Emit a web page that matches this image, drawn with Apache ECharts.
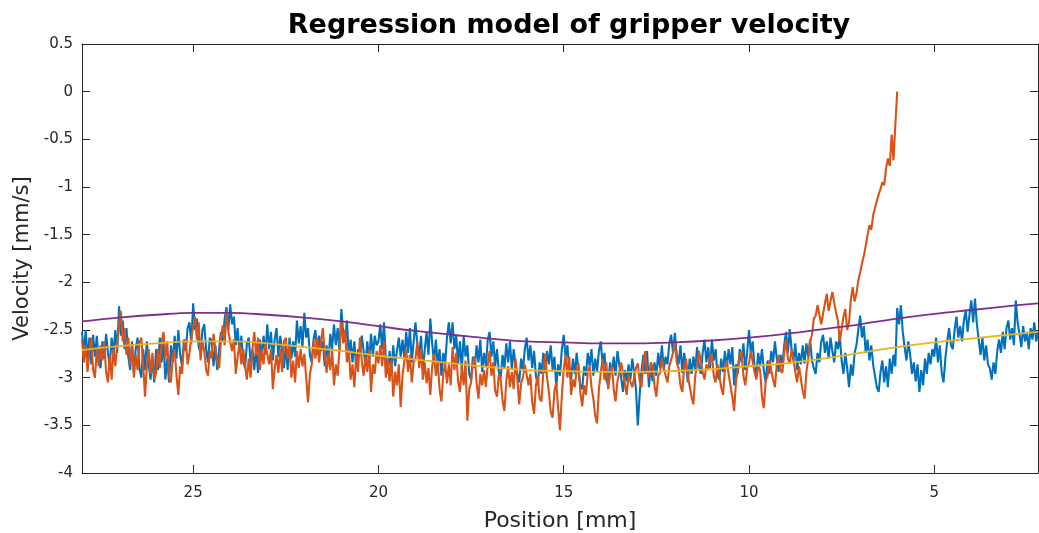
<!DOCTYPE html>
<html><head><meta charset="utf-8">
<script src="https://cdn.jsdelivr.net/npm/echarts@6/dist/echarts.min.js"></script>
<style>html,body{margin:0;padding:0;background:#fff}#c{width:1039px;height:533px}</style>
</head><body><div id="c"></div>
<script>
// sample positions (mm), descending from 28.0 in 0.05 mm steps
const positionStart = 28.0;
const positionStep = 0.05;

// measured velocity, run 1 (blue), 28.0 -> 2.2 mm (one row = 1 mm)
const blueVelocity = [
-2.52,-2.74,-2.50,-2.80,-2.58,-2.86,-2.55,-2.78,-2.56,-2.82,-2.90,-2.62,-2.80,-2.54,-2.74,-2.88,-2.58,-2.76,-2.50,-2.74,
-2.25,-2.56,-2.40,-2.70,-2.48,-2.78,-2.92,-2.62,-2.94,-2.70,-2.58,-2.90,-3.00,-2.70,-2.92,-2.62,-2.86,-3.02,-2.78,-3.05,
-2.70,-2.92,-2.58,-2.84,-2.62,-3.02,-2.80,-3.05,-2.66,-2.84,-2.56,-2.80,-2.50,-2.76,-2.88,-2.60,-2.72,-2.48,-2.42,-2.64,
-2.22,-2.50,-2.38,-2.68,-2.74,-2.50,-2.44,-2.70,-2.84,-2.58,-2.62,-2.88,-2.66,-2.92,-2.70,-2.52,-2.62,-2.38,-2.26,-2.50,
-2.23,-2.44,-2.36,-2.66,-2.48,-2.74,-2.56,-2.82,-2.90,-2.64,-2.58,-2.84,-2.70,-2.92,-2.68,-2.95,-2.60,-2.80,-2.56,-2.76,
-2.44,-2.70,-2.52,-2.82,-2.60,-2.48,-2.78,-2.56,-2.72,-2.90,-2.66,-2.92,-2.58,-2.80,-2.62,-2.78,-2.40,-2.64,-2.46,-2.68,
-2.32,-2.58,-2.48,-2.76,-2.84,-2.60,-2.50,-2.76,-2.56,-2.72,-2.62,-2.88,-2.66,-2.84,-2.54,-2.70,-2.44,-2.66,-2.48,-2.72,
-2.28,-2.54,-2.62,-2.40,-2.78,-2.60,-2.84,-2.62,-2.90,-2.70,-2.76,-2.56,-2.72,-2.86,-2.62,-2.84,-2.54,-2.78,-2.56,-2.66,
-2.62,-2.44,-2.70,-2.42,-2.80,-2.96,-2.72,-2.92,-2.66,-2.88,-2.72,-2.58,-2.78,-2.60,-2.80,-2.52,-2.74,-2.48,-2.84,-2.62,
-2.42,-2.66,-2.78,-2.56,-2.92,-2.70,-2.52,-2.76,-2.38,-2.64,-2.84,-2.60,-2.88,-2.70,-2.98,-2.74,-2.86,-2.58,-2.42,-2.64,
-2.42,-2.70,-2.56,-2.86,-2.62,-2.92,-2.56,-2.78,-2.66,-2.96,-3.02,-2.78,-2.90,-2.66,-2.84,-2.60,-2.94,-2.74,-2.88,-2.60,
-2.52,-2.78,-2.62,-2.88,-2.70,-2.94,-3.00,-2.76,-2.90,-2.64,-2.84,-2.62,-2.92,-2.70,-2.86,-2.96,-3.05,-2.80,-2.92,-2.70,
-2.58,-2.82,-2.66,-2.90,-2.72,-2.98,-3.08,-2.84,-2.96,-2.74,-2.95,-2.72,-2.86,-2.66,-2.92,-2.78,-3.10,-2.86,-2.98,-2.70,
-2.55,-2.78,-2.66,-2.94,-3.02,-2.80,-2.96,-2.74,-2.94,-3.08,-3.12,-2.88,-2.98,-2.74,-2.88,-2.70,-2.98,-2.80,-2.94,-2.72,
-2.62,-2.86,-2.74,-3.02,-3.08,-2.84,-2.96,-2.78,-2.98,-2.72,-2.86,-3.00,-3.15,-2.92,-3.04,-2.86,-3.02,-2.80,-2.94,-3.12,
-3.50,-3.18,-2.92,-2.76,-2.96,-2.72,-3.10,-2.88,-3.04,-2.84,-2.98,-2.74,-2.90,-2.66,-2.92,-2.78,-2.86,-2.64,-2.55,-2.74,
-2.53,-2.76,-2.86,-2.66,-2.95,-2.74,-2.86,-3.05,-2.80,-2.96,-2.78,-2.92,-2.68,-2.88,-2.96,-2.74,-2.60,-2.84,-2.68,-2.90,
-2.60,-2.82,-2.70,-2.98,-3.02,-2.80,-2.94,-2.72,-2.90,-2.70,-2.86,-2.68,-3.08,-2.86,-2.96,-2.70,-2.84,-2.64,-2.92,-2.74,
-2.50,-2.74,-2.62,-2.90,-2.95,-2.74,-2.88,-2.70,-2.92,-3.05,-2.82,-2.96,-2.72,-2.84,-2.62,-2.80,-2.94,-2.76,-2.88,-2.66,
-2.52,-2.74,-2.49,-2.70,-2.82,-2.64,-2.92,-2.74,-2.86,-2.66,-2.85,-2.64,-2.78,-2.60,-2.82,-2.90,-2.96,-2.74,-2.84,-2.62,
-2.55,-2.74,-2.62,-2.80,-2.58,-2.72,-2.84,-2.62,-2.70,-2.56,-2.82,-2.96,-2.74,-2.90,-3.10,-2.86,-2.98,-2.74,-2.66,-2.50,
-2.35,-2.58,-2.46,-2.74,-2.60,-2.82,-2.66,-2.86,-2.98,-3.10,-3.15,-2.94,-2.82,-3.05,-2.88,-3.10,-2.80,-2.96,-2.76,-2.88,
-2.27,-2.44,-2.24,-2.52,-2.68,-2.82,-2.62,-2.76,-2.96,-2.84,-3.04,-2.86,-3.15,-2.92,-3.08,-2.80,-2.96,-2.74,-2.86,-2.70,
-2.78,-2.58,-2.84,-2.66,-2.94,-3.05,-2.80,-2.62,-2.48,-2.66,-2.70,-2.50,-2.36,-2.58,-2.46,-2.62,-2.40,-2.30,-2.52,-2.34,
-2.19,-2.42,-2.17,-2.44,-2.60,-2.76,-2.58,-2.82,-2.66,-2.86,-2.90,-3.02,-2.84,-2.96,-2.72,-2.60,-2.74,-2.52,-2.70,-2.48,
-2.40,-2.60,-2.48,-2.66,-2.19,-2.42,-2.54,-2.68,-2.46,-2.62,-2.52,-2.70,-2.48,-2.60,-2.42,-2.62,-2.52
];

// measured velocity, run 2 (orange), 28.0 -> 6.0 mm (one row = 1 mm)
const orangeVelocity = [
-2.60,-2.84,-2.66,-2.94,-2.72,-2.58,-2.92,-3.00,-2.70,-2.88,-2.66,-2.82,-2.62,-2.94,-3.05,-2.76,-3.02,-2.70,-2.88,-2.64,
-2.45,-2.30,-2.62,-2.48,-2.76,-2.58,-2.86,-2.66,-3.00,-2.76,-2.92,-2.64,-2.58,-2.86,-3.20,-2.88,-2.70,-2.96,-2.74,-3.02,
-2.95,-2.70,-2.90,-2.62,-2.52,-2.80,-2.62,-3.00,-3.05,-2.78,-2.70,-2.98,-3.18,-2.88,-2.96,-2.66,-2.60,-2.86,-2.74,-2.58,
-2.58,-2.36,-2.60,-2.42,-2.82,-2.62,-2.72,-2.92,-2.98,-2.72,-2.80,-2.54,-2.70,-2.84,-2.90,-2.60,-2.45,-2.66,-2.30,-2.52,
-2.50,-2.72,-2.60,-2.96,-2.78,-2.64,-2.86,-2.70,-2.88,-3.02,-2.80,-3.00,-2.70,-2.52,-2.76,-2.58,-2.92,-2.70,-2.86,-2.64,
-2.65,-2.86,-2.70,-3.12,-2.90,-2.76,-2.95,-2.70,-2.94,-2.62,-2.58,-2.80,-2.66,-3.00,-2.82,-3.05,-2.72,-2.90,-2.70,-2.88,
-2.75,-3.00,-3.26,-2.96,-2.86,-2.62,-2.80,-2.58,-2.84,-2.62,-2.48,-2.74,-2.95,-2.74,-2.92,-2.70,-3.08,-2.86,-2.98,-2.70,
-2.40,-2.64,-2.50,-2.84,-2.70,-3.02,-2.86,-3.10,-2.76,-2.94,-2.58,-2.82,-2.98,-2.78,-2.94,-2.70,-3.15,-2.86,-2.96,-2.72,
-2.85,-2.66,-2.88,-2.62,-3.00,-2.80,-3.04,-2.82,-3.20,-2.94,-3.08,-2.86,-3.31,-2.98,-2.82,-2.70,-2.94,-2.76,-3.05,-2.84,
-2.80,-2.62,-2.90,-2.70,-3.02,-2.84,-3.06,-2.90,-3.18,-2.88,-2.75,-2.98,-2.82,-3.12,-3.25,-2.96,-2.85,-3.06,-2.86,-3.08,
-2.68,-2.92,-2.74,-3.04,-3.15,-2.88,-3.08,-2.82,-3.45,-3.12,-3.05,-2.84,-2.78,-3.06,-3.22,-2.96,-3.08,-2.92,-3.10,-2.86,
-2.72,-2.98,-2.84,-3.14,-3.20,-2.96,-3.02,-3.24,-3.35,-3.04,-2.88,-3.10,-2.94,-3.12,-2.80,-3.02,-3.28,-3.06,-3.00,-2.86,
-2.85,-3.08,-2.96,-3.26,-3.38,-3.08,-2.98,-3.22,-3.25,-2.94,-2.75,-3.00,-3.15,-3.36,-3.42,-3.14,-3.05,-3.32,-3.55,-3.18,
-2.92,-2.76,-3.00,-2.78,-3.18,-3.02,-3.10,-2.90,-2.85,-3.16,-3.30,-3.08,-3.18,-2.94,-2.88,-3.10,-3.22,-3.40,-3.48,-3.12,
-2.95,-2.80,-3.02,-2.84,-3.12,-2.96,-2.88,-3.12,-3.25,-3.04,-3.02,-2.84,-2.82,-3.06,-3.18,-2.98,-2.96,-3.10,-3.08,-2.90,
-2.85,-3.04,-3.10,-2.84,-2.72,-2.94,-3.00,-2.84,-2.88,-3.08,-3.20,-2.98,-2.95,-2.80,-2.78,-2.98,-3.05,-2.88,-2.90,-2.74,
-2.62,-2.84,-2.90,-3.08,-3.15,-2.90,-2.80,-2.98,-2.98,-3.20,-3.28,-2.98,-2.86,-2.72,-2.70,-2.94,-3.02,-2.86,-2.92,-2.78,
-2.75,-2.98,-3.05,-2.86,-2.88,-3.10,-3.18,-2.92,-2.82,-2.96,-2.95,-3.20,-3.35,-3.04,-2.90,-2.76,-2.72,-2.98,-3.08,-2.90,
-2.85,-2.72,-2.70,-2.94,-3.02,-2.88,-2.92,-3.20,-3.32,-3.04,-2.98,-2.82,-2.80,-3.02,-3.10,-2.86,-2.76,-2.92,-2.95,-2.74,
-2.60,-2.80,-2.85,-2.70,-2.68,-2.94,-3.05,-2.88,-2.90,-3.14,-3.22,-2.94,-2.80,-2.62,-2.55,-2.38,-2.35,-2.24,-2.22,-2.44,
-2.45,-2.22,-2.12,-2.30,-2.30,-2.10,-2.08,-2.32,-2.40,-2.62,-2.62,-2.36,-2.28,-2.50,-2.42,-2.18,-2.05,-2.20,-2.12,-1.98,
-1.90,-1.80,-1.72,-1.62,-1.50,-1.40,-1.45,-1.30,-1.22,-1.15,-1.08,-1.02,-0.95,-0.98,-0.80,-0.70,-0.78,-0.45,-0.72,-0.35,
0.00
];

// regression curves
const fitPositions = [28,27,26,25,24,23,22,21,20,19,18,17,16,15,14,13,12,11,10,9,8,7,6,5,4,3,2.2];
const upperFit = [-2.41,-2.37,-2.34,-2.32,-2.32,-2.34,-2.37,-2.41,-2.46,-2.51,-2.55,-2.59,-2.62,-2.63,-2.64,-2.64,-2.63,-2.61,-2.58,-2.54,-2.49,-2.44,-2.38,-2.33,-2.29,-2.25,-2.22];
const lowerFit = [-2.71,-2.67,-2.64,-2.62,-2.62,-2.64,-2.68,-2.72,-2.77,-2.81,-2.85,-2.89,-2.92,-2.93,-2.94,-2.94,-2.93,-2.91,-2.88,-2.85,-2.80,-2.74,-2.68,-2.63,-2.59,-2.55,-2.52];

const xTicks = [5,10,15,20,25];
const xMin = 2.2, xMax = 28;
const yMin = -4, yMax = 0.5, yStep = 0.5;

function pos(i){ return Math.round((positionStart - i*positionStep)*100)/100; }
const blueData = blueVelocity.map((v,i)=>[pos(i),v]);
const orangeData = orangeVelocity.map((v,i)=>[pos(i),v]);
const upperData = upperFit.map((v,i)=>[fitPositions[i],v]);
const lowerData = lowerFit.map((v,i)=>[fitPositions[i],v]);

const FONT = "'DejaVu Sans', 'Liberation Sans', Arial, sans-serif";
const AX = '#262626';

const chart = echarts.init(document.getElementById('c'), null, {renderer:'canvas'});
chart.setOption({
  animation:false,
  backgroundColor:'#fff',
  title:{
    text:'Regression model of gripper velocity',
    left:564, top:7, textAlign:'center',
    textStyle:{fontFamily:FONT, fontWeight:'bold', fontSize:27, color:'#000'}
  },
  grid:{left:82, right:1, top:44, bottom:60, containLabel:false, outerBoundsMode:'none'},
  xAxis:[{
    type:'value', inverse:true, min:xMin, max:xMax, position:'bottom',
    name:'Position [mm]', nameLocation:'middle', nameGap:37,
    nameTextStyle:{fontFamily:FONT, fontSize:22, color:AX},
    axisLine:{show:true, onZero:false, lineStyle:{color:AX, width:1}},
    axisTick:{show:true, inside:true, length:8, customValues:xTicks, lineStyle:{color:AX}},
    axisLabel:{customValues:xTicks, fontFamily:FONT, fontSize:15, color:AX, margin:13},
    splitLine:{show:false}
  },{
    type:'value', inverse:true, min:xMin, max:xMax, position:'top',
    axisLine:{show:true, onZero:false, lineStyle:{color:AX, width:1}},
    axisTick:{show:true, inside:true, length:8, customValues:xTicks, lineStyle:{color:AX}},
    axisLabel:{show:false}, splitLine:{show:false}
  }],
  yAxis:[{
    type:'value', min:yMin, max:yMax, interval:yStep, position:'left',
    name:'Velocity [mm/s]', nameLocation:'middle', nameGap:49,
    nameTextStyle:{fontFamily:FONT, fontSize:21, color:AX},
    axisLine:{show:true, onZero:false, lineStyle:{color:AX, width:1}},
    axisTick:{show:true, inside:true, length:8, lineStyle:{color:AX}},
    axisLabel:{fontFamily:FONT, fontSize:15, color:AX, margin:9},
    splitLine:{show:false}
  },{
    type:'value', min:yMin, max:yMax, interval:yStep, position:'right',
    axisLine:{show:true, onZero:false, lineStyle:{color:AX, width:1}},
    axisTick:{show:true, inside:true, length:8, lineStyle:{color:AX}},
    axisLabel:{show:false}, splitLine:{show:false}
  }],
  series:[
    {type:'line', data:blueData, showSymbol:false, lineStyle:{color:'#0072BD', width:2.1}, itemStyle:{color:'#0072BD'}, z:2},
    {type:'line', data:orangeData, showSymbol:false, lineStyle:{color:'#D95319', width:2.1}, itemStyle:{color:'#D95319'}, z:3},
    {type:'line', data:upperData, showSymbol:false, smooth:0.4, lineStyle:{color:'#7E2F8E', width:1.8}, itemStyle:{color:'#7E2F8E'}, z:4},
    {type:'line', data:lowerData, showSymbol:false, smooth:0.4, lineStyle:{color:'#EDB120', width:1.8}, itemStyle:{color:'#EDB120'}, z:5}
  ]
});
</script></body></html>
